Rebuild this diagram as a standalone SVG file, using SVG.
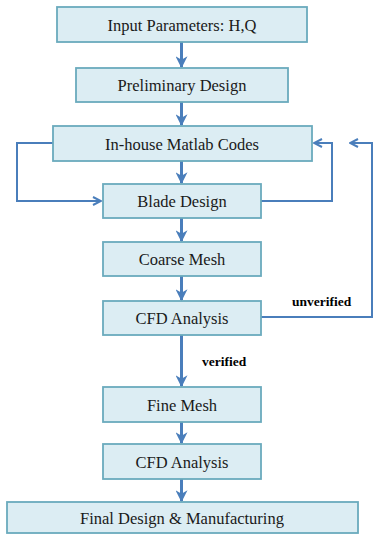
<svg xmlns="http://www.w3.org/2000/svg" width="374" height="535" viewBox="0 0 374 535">
  <defs>
    <!-- filled notched head for the main flow -->
    <marker id="head" viewBox="0 0 10 10" refX="9" refY="5" markerWidth="4" markerHeight="4" orient="auto" markerUnits="strokeWidth">
      <path d="M0,0 L10,5 L0,10 L3,5 Z" fill="#4a7ebb"/>
    </marker>
    <!-- open chevron head for the feedback loops -->
    <marker id="chev" viewBox="0 0 10 10" refX="9" refY="5" markerWidth="5" markerHeight="5" orient="auto" markerUnits="strokeWidth">
      <path d="M1,1 L9,5 L1,9" fill="none" stroke="#4a7ebb" stroke-width="2"/>
    </marker>
  </defs>
  <style>
    .box { fill: #dcedf3; stroke: #6aaabd; stroke-width: 1.8; }
    .lbl { font-family: "Liberation Serif", "Times New Roman", serif; font-size: 16.5px; fill: #1a1a1a; text-anchor: middle; }
    .flow { stroke: #4a7ebb; stroke-width: 3; fill: none; marker-end: url(#head); }
    .loop { stroke: #4a7ebb; stroke-width: 2; fill: none; marker-end: url(#chev); }
    .tag { font-family: "Liberation Serif", "Times New Roman", serif; font-size: 13.5px; font-weight: bold; fill: #000; }
  </style>
  <rect width="374" height="535" fill="#ffffff"/>

  <g id="connectors">
    <line class="flow" x1="181.5" y1="42" x2="181.5" y2="67"/>
    <line class="flow" x1="181.5" y1="102" x2="181.5" y2="125"/>
    <line class="flow" x1="181.5" y1="161" x2="181.5" y2="183"/>
    <line class="flow" x1="181.5" y1="218" x2="181.5" y2="241"/>
    <line class="flow" x1="181.5" y1="276" x2="181.5" y2="300"/>
    <line class="flow" x1="181.5" y1="335" x2="181.5" y2="386"/>
    <line class="flow" x1="181.5" y1="422" x2="181.5" y2="443"/>
    <line class="flow" x1="181.5" y1="479" x2="181.5" y2="501"/>
    <!-- Matlab codes back into blade design (left side) -->
    <polyline class="loop" points="53,143 17,143 17,201 101,201"/>
    <!-- blade design back into Matlab codes (right side) -->
    <polyline class="loop" points="261,201 332,201 332,143 314,143"/>
    <!-- unverified CFD result loops back -->
    <polyline class="loop" points="261,317 372,317 372,143 350,143"/>
  </g>

  <g id="n-input">
    <rect class="box" x="57" y="7" width="250" height="35"/>
    <text class="lbl" x="182" y="30.5">Input Parameters: H,Q</text>
  </g>
  <g id="n-prelim">
    <rect class="box" x="76" y="68" width="212" height="34"/>
    <text class="lbl" x="182" y="90.5">Preliminary Design</text>
  </g>
  <g id="n-matlab">
    <rect class="box" x="53" y="126" width="259" height="35"/>
    <text class="lbl" x="182" y="149.5">In-house Matlab Codes</text>
  </g>
  <g id="n-blade">
    <rect class="box" x="103" y="184" width="158" height="34"/>
    <text class="lbl" x="182" y="206.5">Blade Design</text>
  </g>
  <g id="n-coarse">
    <rect class="box" x="103" y="242" width="158" height="34"/>
    <text class="lbl" x="182" y="264.5">Coarse Mesh</text>
  </g>
  <g id="n-cfd1">
    <rect class="box" x="103" y="301" width="158" height="34"/>
    <text class="lbl" x="182" y="323.5">CFD Analysis</text>
  </g>
  <g id="n-fine">
    <rect class="box" x="103" y="387" width="158" height="35"/>
    <text class="lbl" x="182" y="410.5">Fine Mesh</text>
  </g>
  <g id="n-cfd2">
    <rect class="box" x="103" y="444" width="158" height="35"/>
    <text class="lbl" x="182" y="467.5">CFD Analysis</text>
  </g>
  <g id="n-final">
    <rect class="box" x="7" y="502" width="351" height="31"/>
    <text class="lbl" x="182" y="523.5">Final Design &amp; Manufacturing</text>
  </g>

  <g id="labels">
    <text class="tag" x="292" y="306">unverified</text>
    <text class="tag" x="202" y="366">verified</text>
  </g>
</svg>
